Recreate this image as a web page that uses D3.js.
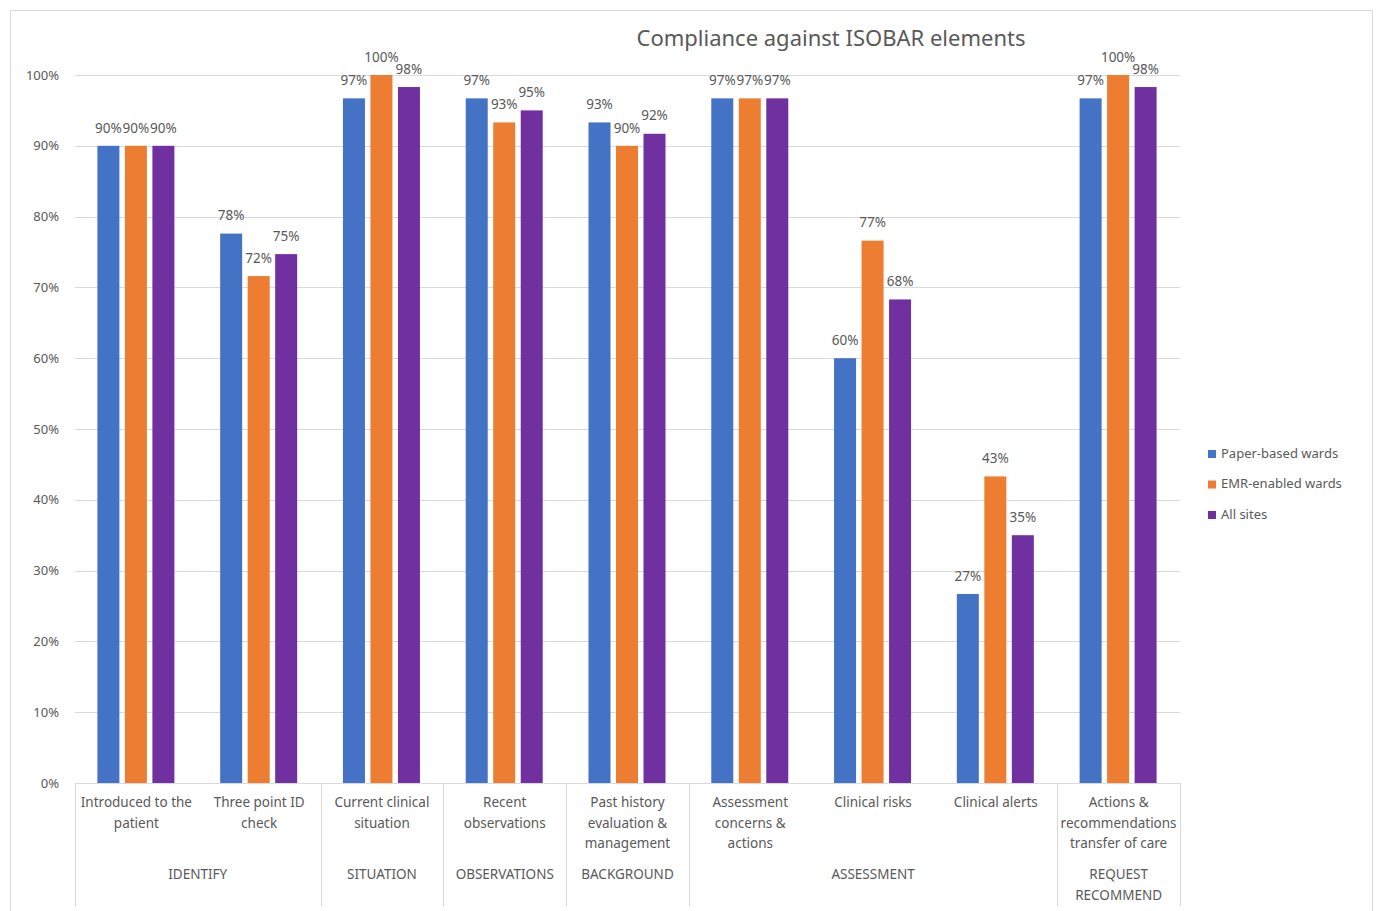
<!DOCTYPE html>
<html>
<head>
<meta charset="utf-8">
<script src="https://cdn.jsdelivr.net/npm/d3@7"></script>
<style>
  body { margin: 0; background: #fff; }
  text { font-family: "Noto Sans", "Open Sans", sans-serif; fill: #595959; }
</style>
</head>
<body>
<svg id="svg" width="1376" height="911"></svg>
<script>
var categories = ["Introduced to the\npatient", "Three point ID\ncheck", "Current clinical\nsituation",
  "Recent\nobservations", "Past history\nevaluation &\nmanagement", "Assessment\nconcerns &\nactions",
  "Clinical risks", "Clinical alerts", "Actions &\nrecommendations\ntransfer of care"];
var groups = ["IDENTIFY", "SITUATION", "OBSERVATIONS", "BACKGROUND", "ASSESSMENT", "REQUEST\nRECOMMEND"];
var groupSpans = [2, 1, 1, 1, 3, 1];
var seriesNames = ["Paper-based wards", "EMR-enabled wards", "All sites"];
var paperValues = [0.90, 0.776, 0.967, 0.967, 0.933, 0.967, 0.60, 0.267, 0.967];
var emrValues   = [0.90, 0.716, 1.00, 0.933, 0.90, 0.967, 0.766, 0.433, 1.00];
var allValues   = [0.90, 0.747, 0.983, 0.95, 0.917, 0.967, 0.683, 0.35, 0.983];
var yTicks = [0, 0.1, 0.2, 0.3, 0.4, 0.5, 0.6, 0.7, 0.8, 0.9, 1.0];
var colors = ["#4472C4", "#ED7D31", "#7030A0"];

var svg = d3.select("#svg");
var plotLeft = 75, plotRight = 1180, plotTop = 75, plotBottom = 783;

// chart frame
svg.append("rect").attr("x", 10.5).attr("y", 10.5).attr("width", 1362).attr("height", 930)
  .attr("fill", "none").attr("stroke", "#d9d9d9");

var x = d3.scaleBand().domain(categories).range([plotLeft, plotRight]);
var y = d3.scaleLinear().domain([0, 1]).range([plotBottom, plotTop]);
var inner = d3.scaleBand().domain(seriesNames).range([0, 77]).paddingInner(0.2);
var offset = (x.bandwidth() - 77) / 2 - 0.5;
var pct = d3.format(".0%");

// gridlines and y labels
svg.append("g").selectAll("line").data(yTicks.slice(1)).enter().append("line")
  .attr("x1", plotLeft).attr("x2", plotRight)
  .attr("y1", function(d){ return Math.round(y(d)) + 0.5; })
  .attr("y2", function(d){ return Math.round(y(d)) + 0.5; })
  .attr("stroke", "#d9d9d9");

svg.append("g").selectAll("text").data(yTicks).enter().append("text")
  .attr("x", 59).attr("y", function(d){ return y(d); }).attr("dy", "0.35em")
  .attr("text-anchor", "end").attr("font-size", 13).text(function(d){ return pct(d); });

// bars
var series = [paperValues, emrValues, allValues];
series.forEach(function(vals, s){
  var g = svg.append("g");
  g.selectAll("rect").data(vals).enter().append("rect")
    .attr("x", function(d, i){ return x(categories[i]) + offset + inner(seriesNames[s]); })
    .attr("y", function(d){ return y(d); })
    .attr("width", inner.bandwidth())
    .attr("height", function(d){ return plotBottom - y(d); })
    .attr("fill", colors[s]);
  g.selectAll("text").data(vals).enter().append("text")
    .attr("x", function(d, i){ return x(categories[i]) + offset + inner(seriesNames[s]) + inner.bandwidth() / 2; })
    .attr("y", function(d){ return y(d) - 18; })
    .attr("dy", "0.35em")
    .attr("text-anchor", "middle").attr("font-size", 13.5)
    .text(function(d){ return pct(d); });
});

// x axis
svg.append("line").attr("x1", plotLeft).attr("x2", plotRight).attr("y1", plotBottom + 0.5).attr("y2", plotBottom + 0.5)
  .attr("stroke", "#d9d9d9");

var bounds = [0];
groupSpans.forEach(function(n){ bounds.push(bounds[bounds.length - 1] + n); });
var step = x.step();
svg.append("g").selectAll("line").data(bounds).enter().append("line")
  .attr("x1", function(b){ return Math.round(plotLeft + b * step) + 0.5; })
  .attr("x2", function(b){ return Math.round(plotLeft + b * step) + 0.5; })
  .attr("y1", plotBottom).attr("y2", 906)
  .attr("stroke", "#d9d9d9");

svg.append("g").selectAll("text").data(categories).enter().append("text")
  .attr("y", 807).attr("text-anchor", "middle").attr("font-size", 13.5)
  .each(function(d){
    var t = d3.select(this), cx = x(d) + x.bandwidth() / 2;
    d.split("\n").forEach(function(line, i){
      t.append("tspan").attr("x", cx).attr("dy", i ? 20.5 : 0).text(line);
    });
  });

svg.append("g").selectAll("text").data(groups).enter().append("text")
  .attr("y", 879).attr("text-anchor", "middle").attr("font-size", 13.5)
  .each(function(d, i){
    var t = d3.select(this), cx = plotLeft + (bounds[i] + groupSpans[i] / 2) * step;
    d.split("\n").forEach(function(line, k){
      t.append("tspan").attr("x", cx).attr("dy", k ? 20.5 : 0).text(line);
    });
  });

// title
svg.append("text").attr("x", 831).attr("y", 46).attr("text-anchor", "middle")
  .attr("font-size", 22).text("Compliance against ISOBAR elements");

// legend
var legend = svg.append("g").selectAll("g").data(seriesNames).enter().append("g")
  .attr("transform", function(d, i){ return "translate(1208," + (453 + i * 30.5) + ")"; });
legend.append("rect").attr("x", 0).attr("y", -3).attr("width", 8).attr("height", 8)
  .attr("fill", function(d, i){ return colors[i]; });
legend.append("text").attr("x", 13).attr("y", 0).attr("dy", "0.35em").attr("font-size", 13)
  .text(function(d){ return d; });
</script>
</body>
</html>
